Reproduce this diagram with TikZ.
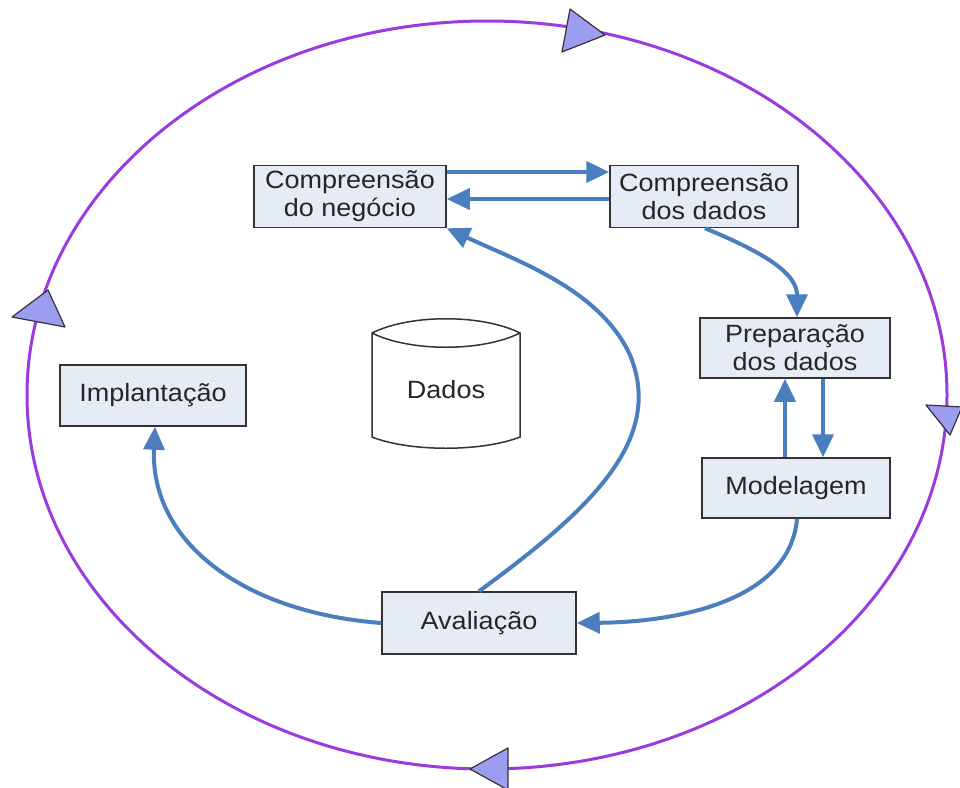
\documentclass[tikz,border=0pt]{standalone}
\usepackage{fontspec}
\setmainfont{Liberation Sans}
\usetikzlibrary{arrows.meta}
\definecolor{boxfill}{HTML}{E6ECF6}
\definecolor{boxline}{HTML}{333333}
\definecolor{arr}{HTML}{4A7EBF}
\definecolor{ring}{HTML}{9A3BE0}
\definecolor{trifill}{HTML}{9C9CF0}
\begin{document}
\begin{tikzpicture}[x=1pt,y=-1pt,
  lbl/.style={text=black!85, font=\fontsize{25}{28}\selectfont},
  stepbox/.style={draw=boxline, line width=1.5pt, fill=boxfill, minimum width=#1, minimum height=62pt,
    align=center, inner sep=2pt, lbl},
  stepbox/.default=190pt,
  flow/.style={draw=arr, line width=4pt, -{Triangle[length=23pt,width=21pt]}},
  tri/.style={draw=black!80, line width=1.2pt, fill=trifill, line join=round}]
\useasboundingbox (0,0) rectangle (960,787);
% ring
\draw[ring, line width=3pt] (487,395) ellipse [x radius=460, y radius=374];
\draw[tri] (605,35) -- (570,9) -- (562,52) -- cycle;
\draw[tri] (950,435) -- (926,405) -- (962,407) -- cycle;
\draw[tri] (470,769) -- (508,748) -- (508,790) -- cycle;
\draw[tri] (48,290) -- (12,317) -- (65,327) -- cycle;
% boxes
\node[stepbox=192pt] (neg) at (350,196.5) {\scalebox{1.08}[1]{Compreens\~ao}\\\scalebox{1.08}[1]{do neg\'ocio}};
\node[stepbox=188pt] (dad) at (704,196.5) {\scalebox{1.08}[1]{Compreens\~ao}\\\scalebox{1.08}[1]{dos dados}};
\node[stepbox=190pt, minimum height=60pt] (prep) at (795,348) {\scalebox{1.08}[1]{Prepara\c{c}\~ao}\\\scalebox{1.08}[1]{dos dados}};
\node[stepbox=188pt, minimum height=60pt] (mod) at (796,488) {\scalebox{1.08}[1]{Modelagem}};
\node[stepbox=194pt] (aval) at (479,623) {\scalebox{1.08}[1]{Avalia\c{c}\~ao}};
\node[stepbox=186pt, minimum height=61pt] (impl) at (153,395.5) {\scalebox{1.08}[1]{Implanta\c{c}\~ao}};
% cylinder
\draw[boxline, line width=1.5pt, fill=white]
  (372,333) -- (372,437) .. controls (410,452) and (482,452) .. (520,437) -- (520,333)
  .. controls (482,314) and (410,314) .. (372,333) -- cycle;
\draw[boxline, line width=1.5pt] (372,333) .. controls (410,352) and (482,352) .. (520,333);
\node[lbl] (dados) at (446,390) {\scalebox{1.08}[1]{Dados}};
% flows
\draw[flow] (neg.east |- 0,172) -- (dad.west |- 0,172);
\draw[flow] (dad.west |- 0,199) -- (neg.east |- 0,199);
\draw[flow] (dad.south -| 705,0) .. controls (770,255) and (797,275) .. (prep.north -| 797,0);
\draw[flow] (prep.south -| 823,0) -- (mod.north -| 823,0);
\draw[flow] (mod.north -| 785,0) -- (prep.south -| 785,0);
\draw[flow] (mod.south -| 797,0) .. controls (790,600) and (680,622) .. (aval.east);
\draw[flow] (aval.west) .. controls (240,612) and (150,540) .. (impl.south -| 155,0);
\draw[flow] (aval.north) .. controls (590,510) and (665,440) .. (630,355)
  .. controls (600,290) and (520,262) .. (neg.south east);
\end{tikzpicture}
\end{document}
